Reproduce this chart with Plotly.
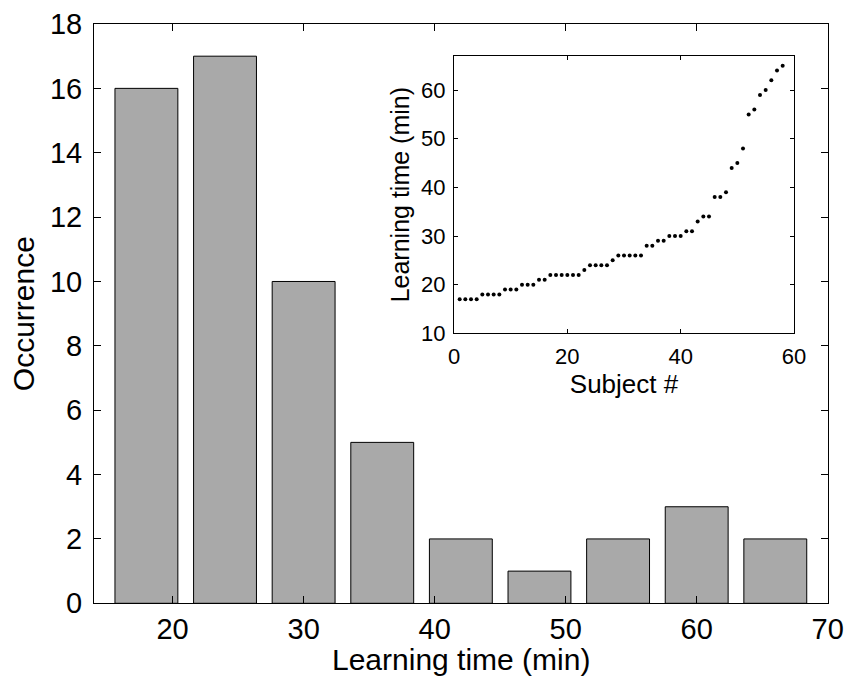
import plotly.graph_objects as go

# Histogram of learning times (bin centres in minutes, counts)
bin_centers = [18, 24, 30, 36, 42, 48, 54, 60, 66]
occurrence = [16, 17, 10, 5, 2, 1, 2, 3, 2]

# Learning time per subject, sorted
subjects = list(range(1, 59))
learning_time = [17, 17, 17, 17, 18, 18, 18, 18, 19, 19, 19, 20, 20, 20,
                 21, 21, 22, 22, 22, 22, 22, 22, 23, 24, 24, 24, 24, 25,
                 26, 26, 26, 26, 26, 28, 28, 29, 29, 30, 30, 30, 31, 31,
                 33, 34, 34, 38, 38, 39, 44, 45, 48, 55, 56, 59, 60, 62,
                 64, 65]

main_xticks = [20, 30, 40, 50, 60, 70]
main_yticks = list(range(0, 19, 2))
inset_xticks = [0, 20, 40, 60]
inset_yticks = [10, 20, 30, 40, 50, 60]

FONT = "Liberation Sans, Arial, Helvetica, sans-serif"
W, H = 848, 679

fig = go.Figure()

fig.add_trace(go.Bar(
    x=bin_centers, y=occurrence, width=4.8,
    marker=dict(color="#a9a9a9", line=dict(color="black", width=1)),
    xaxis="x", yaxis="y", showlegend=False,
))

fig.add_trace(go.Scatter(
    x=subjects, y=learning_time, mode="markers",
    marker=dict(color="black", size=4),
    xaxis="x2", yaxis="y2", showlegend=False,
))

axis_common = dict(
    showline=True, linecolor="black", linewidth=1, mirror="ticks",
    ticks="inside", tickcolor="black", showgrid=False, zeroline=False,
    automargin=False,
)

fig.update_layout(
    width=W, height=H,
    margin=dict(l=0, r=0, t=0, b=0),
    paper_bgcolor="white", plot_bgcolor="white",
    font=dict(family=FONT, color="black"),
    xaxis=dict(
        **axis_common, domain=[94 / W, 827.7 / W], range=[14, 70],
        tickvals=main_xticks, ticklen=7, ticklabelstandoff=0,
        tickfont=dict(size=29),
    ),
    yaxis=dict(
        **axis_common, domain=[1 - 603.3 / H, 1 - 24 / H], range=[0, 18],
        tickvals=main_yticks, ticklen=7, ticklabelstandoff=5,
        tickfont=dict(size=29),
        title=dict(text="Occurrence", font=dict(size=30), standoff=6),
    ),
    xaxis2=dict(
        **axis_common, domain=[454 / W, 794 / W], range=[0, 60],
        tickvals=inset_xticks, ticklen=4, ticklabelstandoff=3,
        tickfont=dict(size=22), anchor="y2",
        title=dict(text="Subject #", font=dict(size=26), standoff=0),
    ),
    yaxis2=dict(
        **axis_common, domain=[1 - 333.3 / H, 1 - 56 / H], range=[10, 67],
        tickvals=inset_yticks, ticklen=4, ticklabelstandoff=3,
        tickfont=dict(size=22), anchor="x2",
        title=dict(text="Learning time (min)", font=dict(size=25), standoff=4),
    ),
    annotations=[dict(
        text="Learning time (min)", xref="paper", yref="paper",
        x=(94 + 827.7) / 2 / W, y=1 - 659 / H, xanchor="center", yanchor="middle",
        showarrow=False, font=dict(size=30),
    )],
)

fig.write_html("out.html")
